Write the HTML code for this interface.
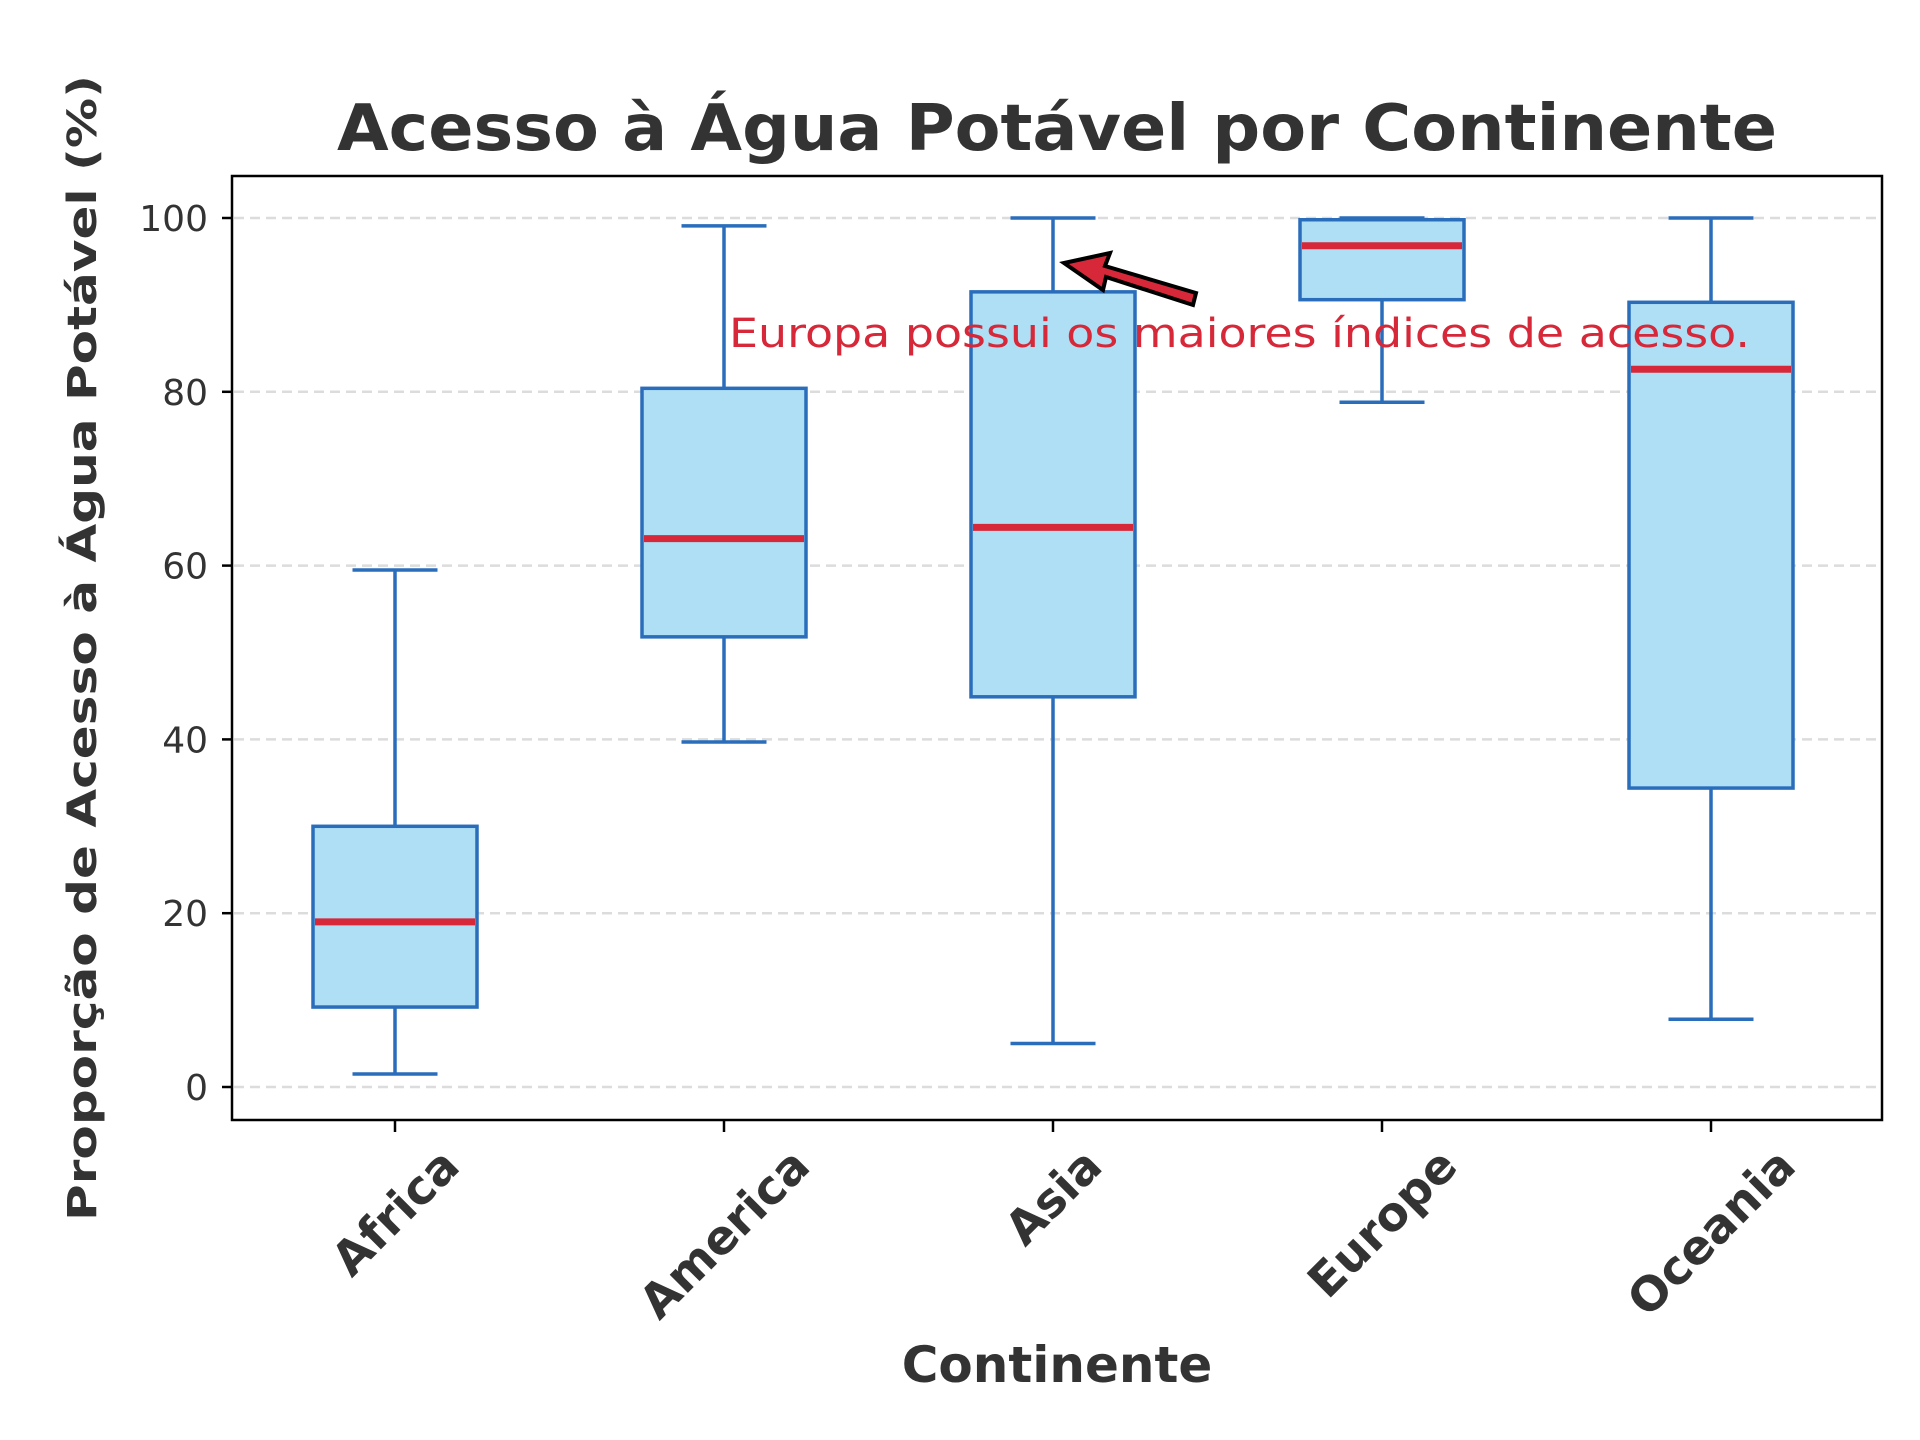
<!DOCTYPE html>
<html><head><meta charset="utf-8"><style>
html,body{margin:0;padding:0;background:#fff;}
svg{display:block;font-family:"DejaVu Sans","Liberation Sans",sans-serif;}
</style></head><body>
<svg id="chart" width="1920" height="1440" viewBox="0 0 1920 1440" xmlns="http://www.w3.org/2000/svg">
<rect width="1920" height="1440" fill="#fff"/>
<g id="grid"></g>
<g id="boxes"></g>
<rect x="232" y="176" width="1650" height="944" fill="none" stroke="#000" stroke-width="2.5"/>
<g id="ticks"></g>
<text x="1057" y="150" text-anchor="middle" font-size="64" font-weight="bold" fill="#333" textLength="1440" lengthAdjust="spacingAndGlyphs">Acesso à Água Potável por Continente</text>
<text x="1057" y="1382" text-anchor="middle" font-size="50" font-weight="bold" fill="#333">Continente</text>
<text transform="translate(96,648) rotate(-90)" text-anchor="middle" font-size="40" font-weight="bold" fill="#333" textLength="1146" lengthAdjust="spacingAndGlyphs">Proporção de Acesso à Água Potável (%)</text>
<g>
<path d="M1196,293 L1105,266 L1110,253 L1064,263 L1103,290 L1106,277 L1193,305 Z" fill="#d62839" stroke="#000" stroke-width="4" stroke-linejoin="miter"/>
<text x="729" y="347" font-size="40" fill="#d62839" textLength="1021" lengthAdjust="spacingAndGlyphs">Europa possui os maiores índices de acesso.</text>
</g>
</svg>
<script>
const categories = ["Africa","America","Asia","Europe","Oceania"];
const whiskerLow = [1.5, 39.7, 5.0, 78.8, 7.8];
const q1 = [9.2, 51.8, 44.9, 90.6, 34.4];
const medians = [19.0, 63.1, 64.4, 96.8, 82.6];
const q3 = [30.0, 80.4, 91.5, 99.8, 90.3];
const whiskerHigh = [59.5, 99.1, 100, 100, 100];
const yTicks = [0, 20, 40, 60, 80, 100];

const NS = "http://www.w3.org/2000/svg";
const y = v => 1087 - v * 8.69;
const x = i => 395 + i * 329;
const BW = 164, CW = 85;
function mk(parent, tag, attrs){
  const el = document.createElementNS(NS, tag);
  for (const k in attrs) el.setAttribute(k, attrs[k]);
  parent.appendChild(el);
  return el;
}
const grid = document.getElementById('grid');
const ticks = document.getElementById('ticks');
const boxes = document.getElementById('boxes');
yTicks.forEach(t => {
  const g = mk(grid, 'line', {x1:234, x2:1880, y1:y(t), y2:y(t), stroke:'#dcdcdc', 'stroke-width':2.5, 'stroke-dasharray':'10,6'});
  
  
  const tk = mk(ticks, 'line', {x1:222, x2:232, y1:y(t), y2:y(t), stroke:'#000', 'stroke-width':2.5});
  
  
  const lb = mk(ticks, 'text', {x:208, y:y(t)+13, 'text-anchor':'end', 'font-size':36, fill:'#333'});
  lb.textContent = t;
  
  
});
const FS = 47;
categories.forEach((c, i) => {
  const cx = x(i);
  const g = mk(boxes, 'g', {});
  
  
  const st = {stroke:'#2a6ebb', 'stroke-width':3.5};
  mk(g, 'line', Object.assign({x1:cx, x2:cx, y1:y(whiskerLow[i]), y2:y(q1[i])}, st));
  mk(g, 'line', Object.assign({x1:cx, x2:cx, y1:y(q3[i]), y2:y(whiskerHigh[i])}, st));
  mk(g, 'line', Object.assign({x1:cx-CW/2, x2:cx+CW/2, y1:y(whiskerLow[i]), y2:y(whiskerLow[i])}, st));
  mk(g, 'line', Object.assign({x1:cx-CW/2, x2:cx+CW/2, y1:y(whiskerHigh[i]), y2:y(whiskerHigh[i])}, st));
  mk(g, 'rect', {x:cx-BW/2, y:y(q3[i]), width:BW, height:y(q1[i])-y(q3[i]), fill:'#aedff5', stroke:'#2a6ebb', 'stroke-width':3.5});
  mk(g, 'line', {x1:cx-BW/2+2, x2:cx+BW/2-2, y1:y(medians[i]), y2:y(medians[i]), stroke:'#d62839', 'stroke-width':7});
  const tk = mk(ticks, 'line', {x1:cx, x2:cx, y1:1120, y2:1132, stroke:'#000', 'stroke-width':2.5});
  
  
  const lb = mk(ticks, 'text', {'text-anchor':'middle', 'font-size':FS, 'font-weight':'bold', fill:'#333'});
  lb.textContent = c;
  
  
  const w = lb.getComputedTextLength();
  const h = FS * 0.95;
  const px = cx + 0.25 * FS;
  const py = 1141 + (w + h) * 0.3536 + 0.25 * FS;
  lb.setAttribute('transform', `translate(${px},${py}) rotate(-45)`);
});
</script>
</body></html>
